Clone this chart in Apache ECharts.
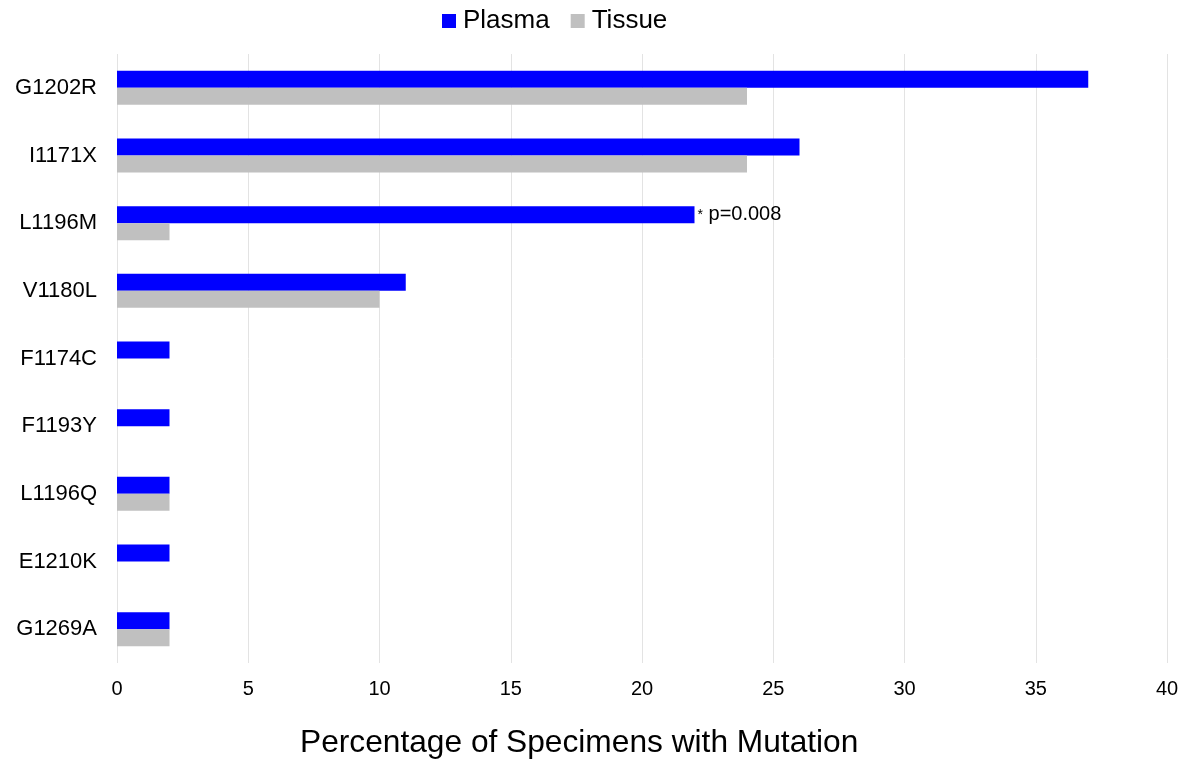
<!DOCTYPE html>
<html>
<head>
<meta charset="utf-8">
<script src="https://cdn.jsdelivr.net/npm/echarts@6/dist/echarts.min.js"></script>
<style>html,body{margin:0;padding:0;background:#fff;}#c{width:1196px;height:761px;}</style>
</head>
<body>
<div id="c"></div>
<script>
var categories = ['G1202R','I1171X','L1196M','V1180L','F1174C','F1193Y','L1196Q','E1210K','G1269A'];
var plasma = [37, 26, 22, 11, 2, 2, 2, 2, 2];
var tissue = [24, 24, 2, 10, 0, 0, 2, 0, 2];
var xTicks = [0, 5, 10, 15, 20, 25, 30, 35, 40];
var annotations = {2: 'p=0.008'};

var font = '"Liberation Sans", Arial, sans-serif';
var chart = echarts.init(document.getElementById('c'), null, {renderer: 'canvas'});

var plasmaData = plasma.map(function (v, i) {
  if (annotations[i]) {
    return {
      value: v,
      label: {
        show: true, position: 'right', distance: 3,
        formatter: '{s|*} ' + annotations[i],
        color: '#000', fontSize: 20, fontFamily: font,
        rich: {s: {fontSize: 14, color: '#000', fontFamily: font, verticalAlign: 'middle'}}
      }
    };
  }
  return v;
});

chart.setOption({
  animation: false,
  backgroundColor: '#fff',
  legend: {
    top: 3, left: 437,
    itemWidth: 14, itemHeight: 14, itemGap: 21,
    icon: 'rect',
    textStyle: {fontSize: 26, fontFamily: font, color: '#000', padding: [0, 0, 0, 2]},
    data: ['Plasma', 'Tissue']
  },
  grid: {left: 117, right: 29, top: 54, bottom: 98, containLabel: false},
  xAxis: {
    type: 'value', min: xTicks[0], max: xTicks[xTicks.length - 1], interval: 5,
    axisLine: {show: false}, axisTick: {show: false},
    splitLine: {show: true, lineStyle: {color: '#e3e3e3', width: 1}},
    axisLabel: {fontSize: 20, fontFamily: font, color: '#000', margin: 16}
  },
  yAxis: {
    type: 'category', data: categories, inverse: true,
    axisLine: {show: false}, axisTick: {show: false},
    axisLabel: {fontSize: 22, fontFamily: font, color: '#000', margin: 20}
  },
  graphic: [{
    type: 'text', left: 300, top: 727,
    style: {text: 'Percentage of Specimens with Mutation', fontSize: 31.7, fontFamily: font, fill: '#000'}
  }],
  series: [
    {name: 'Plasma', type: 'bar', data: plasmaData, barWidth: 17, barGap: '0%',
     itemStyle: {color: '#0000ff'}},
    {name: 'Tissue', type: 'bar', data: tissue, barWidth: 17, barGap: '0%',
     itemStyle: {color: '#c0c0c0'}}
  ]
});
</script>
</body>
</html>
